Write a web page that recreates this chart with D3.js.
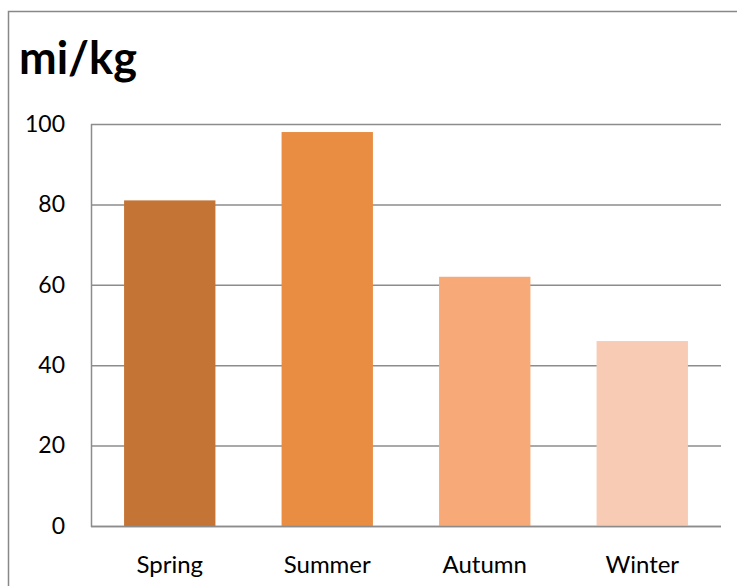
<!DOCTYPE html>
<html><head><meta charset="utf-8">
<script src="https://cdn.jsdelivr.net/npm/d3@7"></script>
<style>html,body{margin:0;padding:0;background:#fff;overflow:hidden}</style>
</head><body>
<script>
const categories = ["Spring","Summer","Autumn","Winter"];
const values = [81, 98, 62, 46];
const colors = ["#C47535","#E88D42","#F7AA78","#F7CBB4"];
const yTicks = [0,20,40,60,80,100];
const title = "mi/kg";

const W = 737, H = 586;
const font = "Lato, 'Open Sans', sans-serif";
const svg = d3.select("body").append("svg").attr("width", W).attr("height", H);

// outer border
svg.append("rect").attr("x", 8.5).attr("y", 11.5).attr("width", W).attr("height", H)
  .attr("fill", "#fff").attr("stroke", "#888").attr("stroke-width", 1.5);

svg.append("text").attr("x", 19).attr("y", 74).text(title)
  .attr("font-family", font).attr("font-weight", "bold").attr("font-size", 45).attr("fill", "#000");

const m = {l: 91, r: 721, t: 124, b: 526};
const x = d3.scaleBand().domain(categories).range([m.l, m.r]).paddingInner(0.42).paddingOuter(0.21);
const y = d3.scaleLinear().domain([0, 100]).range([m.b, m.t]);

const g = svg.append("g");
g.selectAll("line.grid").data(yTicks).join("line")
  .attr("x1", m.l).attr("x2", m.r).attr("y1", d => y(d) + 0.5).attr("y2", d => y(d) + 0.5)
  .attr("stroke", "#8c8c8c").attr("stroke-width", 1.5);
g.append("line").attr("x1", m.l + 0.5).attr("x2", m.l + 0.5).attr("y1", m.t).attr("y2", m.b + 1)
  .attr("stroke", "#8c8c8c").attr("stroke-width", 1.5);

const yAxis = d3.axisLeft(y).tickValues(yTicks).tickSize(0).tickPadding(26);
const ya = svg.append("g").attr("transform", `translate(${m.l},0)`).call(yAxis);
ya.select(".domain").remove();
ya.selectAll("text").attr("font-family", font).attr("font-size", 23).attr("fill", "#000");

svg.selectAll("rect.bar").data(values).join("rect").attr("class","bar")
  .attr("x", (d,i) => x(categories[i])).attr("width", x.bandwidth())
  .attr("y", d => y(d)).attr("height", d => y(0) - y(d))
  .attr("fill", (d,i) => colors[i]);

svg.append("line").attr("x1", m.l).attr("x2", m.r).attr("y1", y(0) + 0.5).attr("y2", y(0) + 0.5)
  .attr("stroke", "#8c8c8c").attr("stroke-width", 1.5);

const xAxis = d3.axisBottom(x).tickSize(0).tickPadding(0);
const xa = svg.append("g").attr("transform", `translate(0,${m.b})`).call(xAxis);
xa.select(".domain").remove();
xa.selectAll("text").attr("y", 47).attr("dy", 0)
  .attr("font-family", font).attr("font-size", 24).attr("fill", "#000");
</script>
</body></html>
